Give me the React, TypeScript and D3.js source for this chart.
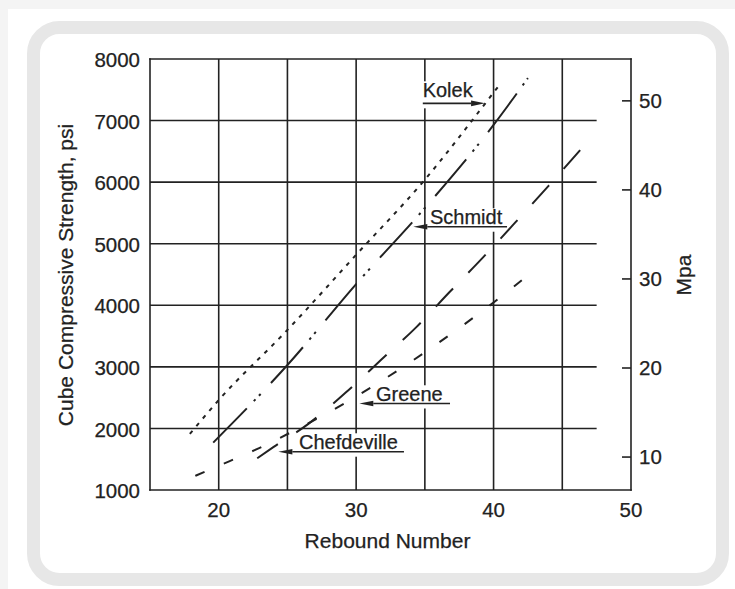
import React, { useEffect, useRef } from "react";
import * as d3 from "d3";

// ---- axes ----
const X_DOMAIN: [number, number] = [15, 50];
const PSI_DOMAIN: [number, number] = [1000, 8000];
const MPA_DOMAIN: [number, number] = [6.3, 54.7];
const X_TICKS = [20, 30, 40, 50];
const X_GRID = [20, 25, 30, 35, 40, 45];
const PSI_TICKS = [1000, 2000, 3000, 4000, 5000, 6000, 7000, 8000];
const PSI_GRID = [2000, 3000, 4000, 5000, 6000, 7000];
const GRID_END_X = 47.5;
const MPA_TICKS = [10, 20, 30, 40, 50];

// ---- series (rebound number, cube strength psi) ----
const kolek: [number, number][] = [
  [17.9, 1910], [20, 2460], [25, 3600], [30, 4820], [35, 6040], [39.4, 7280], [40.5, 7600],
];
const schmidt: [number, number][] = [
  [19.6, 1770], [25, 3030], [30, 4345], [35, 5580], [40, 6930], [42.5, 7690],
];
const greene: [number, number][] = [
  [22.8, 1515], [24, 1700], [26.5, 2070], [29.2, 2575], [31.8, 3110], [34.4, 3650],
  [36.8, 4215], [39.2, 4770], [41.6, 5350], [44, 5940], [47, 6700],
];
const chefdeville: [number, number][] = [
  [18.3, 1230], [20.8, 1470], [22.9, 1677], [25.3, 1942], [29.2, 2413], [33.3, 2981],
  [37.1, 3566], [40.8, 4183], [43, 4578],
];

const SERIES = [
  { name: "Kolek", pts: kolek, dash: "4 6" },
  { name: "Schmidt", pts: schmidt, dash: "48 10 2.5 5 2.5 15" },
  { name: "Greene", pts: greene, dash: "25 22" },
  { name: "Chefdeville", pts: chefdeville, dash: "10 21" },
];

// ---- annotations (data units) ----
const LABEL_TEXT = ["Kolek", "Schmidt", "Greene", "Chefdeville"];
const LABEL_ARROW_Y = [7280, 5276, 2405, 1622];
const LABEL_TIP_X = [39.38, 34.16, 30.23, 24.34];
const LABEL_TAIL_X = [34.85, 40.98, 36.83, 33.48];
const LABEL_TEXT_X = [34.84, 35.37, 31.44, 25.84];
const LABEL_BASE_GAP = [6, 2.4, 2.2, 2.4];

const FONT = "'Liberation Sans', Arial, Helvetica, sans-serif";

export default function App() {
  const ref = useRef<SVGSVGElement>(null);

  useEffect(() => {
    const svg = d3.select(ref.current);
    svg.selectAll("*").remove();
    const W = 735, H = 589;
    const L = 150, R = 631, T = 59, B = 490;
    const ink = "#222";

    const x = d3.scaleLinear().domain(X_DOMAIN).range([L, R]);
    const y = d3.scaleLinear().domain(PSI_DOMAIN).range([B, T]);
    const yM = d3.scaleLinear().domain(MPA_DOMAIN).range([B, T]);

    const txt = (sel: any, size: number) =>
      sel.attr("font-family", FONT).attr("font-size", size).attr("fill", ink)
        .attr("stroke", ink).attr("stroke-width", 0.25);

    // background & card
    svg.append("rect").attr("width", W).attr("height", H).attr("fill", "#f4f4f4");
    svg.append("rect").attr("x", 8).attr("y", 9).attr("width", W - 8).attr("height", H - 9).attr("fill", "#fff");
    svg.append("rect").attr("x", 33.5).attr("y", 27.5).attr("width", 689).attr("height", 552)
      .attr("rx", 26).attr("fill", "#fff").attr("stroke", "#e7e7e7").attr("stroke-width", 13);

    const gGrid = svg.append("g");
    const gMask = svg.append("g");
    const gSeries = svg.append("g");
    const gLabels = svg.append("g");

    // grid
    X_GRID.forEach((v) => {
      gGrid.append("line").attr("x1", x(v)).attr("x2", x(v)).attr("y1", T).attr("y2", B)
        .attr("stroke", ink).attr("stroke-width", 1.6);
    });
    PSI_GRID.forEach((v) => {
      gGrid.append("line").attr("x1", L).attr("x2", x(GRID_END_X)).attr("y1", y(v)).attr("y2", y(v))
        .attr("stroke", ink).attr("stroke-width", 1.6);
    });
    // frame
    [[L, T, R, T], [L, B, R, B], [L, T, L, B], [R, T, R, B]].forEach(([x1, y1, x2, y2]) => {
      gGrid.append("line").attr("x1", x1).attr("y1", y1).attr("x2", x2).attr("y2", y2)
        .attr("stroke", ink).attr("stroke-width", 1.6).attr("stroke-linecap", "square");
    });
    // right ticks
    MPA_TICKS.forEach((v) => {
      gGrid.append("line").attr("x1", R - 9).attr("x2", R).attr("y1", yM(v)).attr("y2", yM(v))
        .attr("stroke", ink).attr("stroke-width", 1.6);
      txt(gGrid.append("text").attr("x", R + 8).attr("y", yM(v)).attr("dy", "0.36em"), 20.5).text(String(v));
    });
    PSI_TICKS.forEach((v) => {
      txt(gGrid.append("text").attr("x", L - 10).attr("y", y(v)).attr("dy", "0.4em").attr("text-anchor", "end"), 20.5)
        .text(String(v));
    });
    X_TICKS.forEach((v) => {
      txt(gGrid.append("text").attr("x", x(v)).attr("y", 516.5).attr("text-anchor", "middle"), 20.5).text(String(v));
    });
    // titles
    txt(gGrid.append("text").attr("x", 387.5).attr("y", 548).attr("text-anchor", "middle"), 21).text("Rebound Number");
    txt(gGrid.append("text").attr("transform", "translate(73,275) rotate(-90)").attr("text-anchor", "middle"), 21)
      .text("Cube Compressive Strength, psi");
    txt(gGrid.append("text").attr("transform", "translate(691,275) rotate(-90)").attr("text-anchor", "middle"), 21)
      .text("Mpa");

    // series
    const line = d3.line<[number, number]>().x((d) => x(d[0])).y((d) => y(d[1])).curve(d3.curveMonotoneX);
    SERIES.forEach((s) => {
      gSeries.append("path").attr("d", line(s.pts) as string).attr("fill", "none")
        .attr("stroke", ink).attr("stroke-width", 2).attr("stroke-dasharray", s.dash);
    });

    // labels with arrows
    LABEL_TEXT.forEach((t, i) => {
      const ay = y(LABEL_ARROW_Y[i]);
      const tip = x(LABEL_TIP_X[i]);
      const tail = x(LABEL_TAIL_X[i]);
      const tx = x(LABEL_TEXT_X[i]);
      const text = txt(gLabels.append("text").attr("x", tx).attr("y", ay - LABEL_BASE_GAP[i]), 20).text(t);
      const bb = (text.node() as SVGTextElement).getBBox();
      gMask.append("rect").attr("x", bb.x - 2).attr("y", bb.y + 2)
        .attr("width", bb.width + 4).attr("height", ay + 5 - (bb.y + 2)).attr("fill", "#fff");
      const dir = tip > tail ? 1 : -1;
      const head = 14, hw = 2.8;
      gLabels.append("line").attr("x1", tail).attr("x2", tip - dir * head).attr("y1", ay).attr("y2", ay)
        .attr("stroke", ink).attr("stroke-width", 1.6);
      gLabels.append("path")
        .attr("d", `M${tip},${ay} L${tip - dir * head},${ay - hw} L${tip - dir * head},${ay + hw} Z`)
        .attr("fill", ink);
    });
  }, []);

  return (
    <svg ref={ref} width={735} height={589}
      style={{ position: "absolute", left: 0, top: 0, display: "block" }} />
  );
}
